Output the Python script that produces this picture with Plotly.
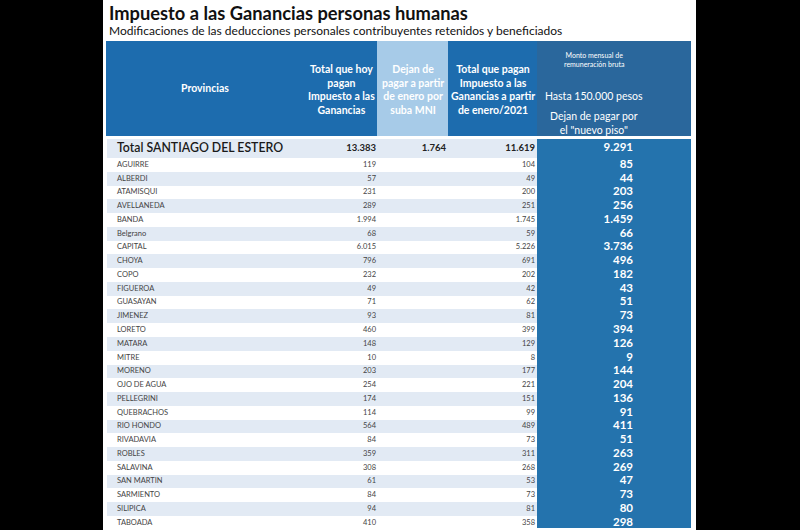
import plotly.graph_objects as go

# ---------------- data ----------------
title = "Impuesto a las Ganancias personas humanas"
subtitle = "Modificaciones de las deducciones personales contribuyentes retenidos y beneficiados"

col_headers = [
    "Provincias",
    "Total que hoy<br>pagan<br>Impuesto a las<br>Ganancias",
    "Dejan de<br>pagar a partir<br>de enero por<br>suba MNI",
    "Total que pagan<br>Impuesto a las<br>Ganancias a partir<br>de enero/2021",
]
col5_small = "Monto mensual de<br>remuneración bruta"
col5_mid = "Hasta 150.000 pesos"
col5_low = "Dejan de pagar por<br>el \"nuevo piso\""

total_label = "Total SANTIAGO DEL ESTERO"
total_hoy = 13383
total_mni = 1764
total_2021 = 11619
total_piso = 9291

departamentos = [
    "AGUIRRE", "ALBERDI", "ATAMISQUI", "AVELLANEDA", "BANDA", "Belgrano",
    "CAPITAL", "CHOYA", "COPO", "FIGUEROA", "GUASAYAN", "JIMENEZ", "LORETO",
    "MATARA", "MITRE", "MORENO", "OJO DE AGUA", "PELLEGRINI", "QUEBRACHOS",
    "RIO HONDO", "RIVADAVIA", "ROBLES", "SALAVINA", "SAN MARTIN", "SARMIENTO",
    "SILIPICA", "TABOADA",
]
pagan_hoy = [119, 57, 231, 289, 1994, 68, 6015, 796, 232, 49, 71, 93, 460,
             148, 10, 203, 254, 174, 114, 564, 84, 359, 308, 61, 84, 94, 410]
pagan_2021 = [104, 49, 200, 251, 1745, 59, 5226, 691, 202, 42, 62, 81, 399,
              129, 8, 177, 221, 151, 99, 489, 73, 311, 268, 53, 73, 81, 358]
nuevo_piso = [85, 44, 203, 256, 1459, 66, 3736, 496, 182, 43, 51, 73, 394,
              126, 9, 144, 204, 136, 91, 411, 51, 263, 269, 47, 73, 80, 298]

# ---------------- layout constants ----------------
W, H = 800, 530
ROW0_PX = 165.0       # pixel centre of first data row
ROW_PX = 13.76        # pixel height of a data row
FONT = "Lato"

def fmt(v):
    return f"{v:,}".replace(",", ".")

def u(px):  # pixel -> row units on the y axis
    return (px - ROW0_PX) / ROW_PX

def py(px):  # pixel -> paper
    return 1 - px / H

HEAD_BLUE = "#1d6cae"
HEAD_LIGHT = "#a7cbe8"
HEAD_DARK = "#2a679c"
BODY_BLUE = "#2473ad"
SHADE = "#e2eaf4"

n = len(departamentos)
idx = list(range(n))
shaded = [i for i in idx if i % 2 == 1]
total_y = u(148.5)

fig = go.Figure()

# row shading (through the y axis)
fig.add_trace(go.Bar(orientation="h", y=[total_y], x=[430], base=107,
                     width=u(158) - u(139), marker=dict(color=SHADE, line=dict(width=0)),
                     hoverinfo="skip", showlegend=False))
fig.add_trace(go.Bar(orientation="h", y=shaded, x=[430] * len(shaded), base=107,
                     width=1, marker=dict(color=SHADE, line=dict(width=0)),
                     hoverinfo="skip", showlegend=False))

# names
fig.add_trace(go.Scatter(mode="text", x=[117] * n, y=idx, text=departamentos,
                         textposition="middle right",
                         textfont=dict(family=FONT, size=7.5, color="#444"),
                         hoverinfo="skip", showlegend=False))
# pagan hoy
fig.add_trace(go.Scatter(mode="text", x=[376] * n, y=idx, text=[fmt(v) for v in pagan_hoy],
                         textposition="middle left",
                         textfont=dict(family=FONT, size=7.5, color="#444"),
                         hoverinfo="skip", showlegend=False))
# pagan 2021
fig.add_trace(go.Scatter(mode="text", x=[535] * n, y=idx, text=[fmt(v) for v in pagan_2021],
                         textposition="middle left",
                         textfont=dict(family=FONT, size=7.5, color="#444"),
                         hoverinfo="skip", showlegend=False))
# nuevo piso
fig.add_trace(go.Scatter(mode="text", x=[633] * n, y=idx, text=[fmt(v) for v in nuevo_piso],
                         textposition="middle left",
                         textfont=dict(family=FONT, size=11.5, color="white", weight="bold"),
                         hoverinfo="skip", showlegend=False))

# total row
fig.add_trace(go.Scatter(mode="text", x=[117], y=[total_y], text=[total_label],
                         textposition="middle right",
                         textfont=dict(family=FONT, size=12.3, color="#1a1a1a", weight=600),
                         hoverinfo="skip", showlegend=False))
fig.add_trace(go.Scatter(mode="text", x=[376, 446, 535], y=[total_y] * 3,
                         text=[fmt(total_hoy), fmt(total_mni), fmt(total_2021)],
                         textposition="middle left",
                         textfont=dict(family=FONT, size=9.5, color="#222", weight="bold"),
                         hoverinfo="skip", showlegend=False))
fig.add_trace(go.Scatter(mode="text", x=[633], y=[total_y], text=[fmt(total_piso)],
                         textposition="middle left",
                         textfont=dict(family=FONT, size=11.5, color="white", weight="bold"),
                         hoverinfo="skip", showlegend=False))

shapes = [
    # black side panels
    dict(type="rect", xref="x", yref="paper", x0=0, x1=103, y0=0, y1=1,
         fillcolor="black", line=dict(width=0), layer="below"),
    dict(type="rect", xref="x", yref="paper", x0=696, x1=800, y0=0, y1=1,
         fillcolor="black", line=dict(width=0), layer="below"),
    # header blocks
    dict(type="rect", xref="x", yref="paper", x0=106, x1=537, y0=py(136), y1=py(41),
         fillcolor=HEAD_BLUE, line=dict(width=0), layer="below"),
    dict(type="rect", xref="x", yref="paper", x0=377, x1=448, y0=py(136), y1=py(41),
         fillcolor=HEAD_LIGHT, line=dict(width=0), layer="below"),
    dict(type="rect", xref="x", yref="paper", x0=537, x1=691, y0=py(136), y1=py(41),
         fillcolor=HEAD_DARK, line=dict(width=0), layer="below"),
    # blue body column
    dict(type="rect", xref="x", yref="y", x0=537, x1=691, y0=u(139), y1=u(528),
         fillcolor=BODY_BLUE, line=dict(width=0), layer="below"),
]

ann = [
    dict(text=f"<b>{title}</b>", x=107, y=py(13), xanchor="left", yanchor="middle",
         font=dict(family=FONT, size=18.3, color="#111")),
    dict(text=subtitle, x=107, y=py(31), xanchor="left", yanchor="middle",
         font=dict(family=FONT, size=12, color="#111")),
    dict(text=f"<b>{col_headers[0]}</b>", x=205, y=py(88), xanchor="center", yanchor="middle",
         font=dict(family=FONT, size=10.5, color="white")),
    dict(text=f"<b>{col_headers[1]}</b>", x=341, y=py(90), xanchor="center", yanchor="middle",
         font=dict(family=FONT, size=10.5, color="white")),
    dict(text=f"<b>{col_headers[2]}</b>", x=413, y=py(90), xanchor="center", yanchor="middle",
         font=dict(family=FONT, size=10.5, color="white")),
    dict(text=f"<b>{col_headers[3]}</b>", x=493, y=py(90), xanchor="center", yanchor="middle",
         font=dict(family=FONT, size=10.5, color="white")),
    dict(text=col5_small, x=594, y=py(60), xanchor="center", yanchor="middle",
         font=dict(family=FONT, size=7, color="white")),
    dict(text=col5_mid, x=594, y=py(96), xanchor="center", yanchor="middle",
         font=dict(family=FONT, size=10.5, color="white")),
    dict(text=col5_low, x=594, y=py(123), xanchor="center", yanchor="middle",
         font=dict(family=FONT, size=10.5, color="white")),
]
for a in ann:
    a.update(xref="x", yref="paper", showarrow=False)

fig.update_layout(
    width=W, height=H,
    margin=dict(l=0, r=0, t=0, b=0),
    paper_bgcolor="white", plot_bgcolor="rgba(0,0,0,0)",
    barmode="overlay", bargap=0,
    hovermode=False,
    shapes=shapes, annotations=ann,
    xaxis=dict(range=[0, W], visible=False, fixedrange=True),
    yaxis=dict(range=[u(H), u(0)], visible=False, fixedrange=True),
)

fig.write_html("out.html", config={"displayModeBar": False},
               post_script="document.body.style.margin='0';document.body.style.overflow='hidden';")
